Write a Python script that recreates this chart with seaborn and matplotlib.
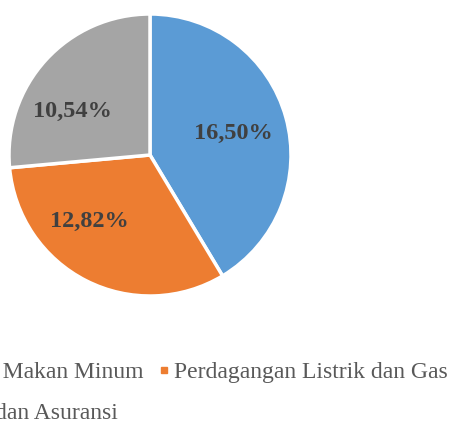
import matplotlib
matplotlib.use('Agg')
import matplotlib.pyplot as plt
import seaborn as sns
from matplotlib.lines import Line2D

# data
sektor = ['Akomodasi dan Makan Minum', 'Perdagangan Listrik dan Gas', 'Jasa Keuangan dan Asuransi']
nilai = [16.50, 12.82, 10.54]
warna = ['#5B9BD5', '#ED7D31', '#A5A5A5']

sns.set_style('white')
plt.rcParams['font.family'] = ['Liberation Serif', 'DejaVu Serif']

fig = plt.figure(figsize=(4.52, 4.26), dpi=100)
ax = fig.add_axes([9 / 452, 130 / 426, 282 / 452, 282 / 426])

wedges, _, autotexts = ax.pie(
    nilai, colors=warna, startangle=90, counterclock=False,
    autopct=lambda p: f'{p * sum(nilai) / 100:.2f}%'.replace('.', ','),
    pctdistance=0.62, radius=1,
    wedgeprops=dict(edgecolor='white', linewidth=2.5),
    textprops=dict(fontsize=17.5, fontweight='bold', color='#404040'))
ax.set_xlim(-1, 1)
ax.set_ylim(-1, 1)
ax.set_aspect('equal')

# label placement like the original (best fit inside each slice)
posisi_label = [(0.59, 0.15), (-0.43, -0.47), (-0.55, 0.31)]
for t, pos in zip(autotexts, posisi_label):
    t.set_position(pos)

# legend: two entries on the first row, the third below
urutan = [0, 2, 1]
handles = [Line2D([], [], marker='s', linestyle='none', markersize=5,
                  markerfacecolor=warna[i], markeredgecolor=warna[i]) for i in urutan]
labels = [sektor[i] for i in urutan]
fig.legend(handles, labels, ncol=2, loc='upper right',
           bbox_to_anchor=(448 / 452, 0.152), frameon=False, fontsize=17,
           labelcolor='#595959', handlelength=0.4, handletextpad=0.25,
           columnspacing=0.67, labelspacing=0.85, borderpad=0, borderaxespad=0)

fig.savefig('out.png', dpi=100)
